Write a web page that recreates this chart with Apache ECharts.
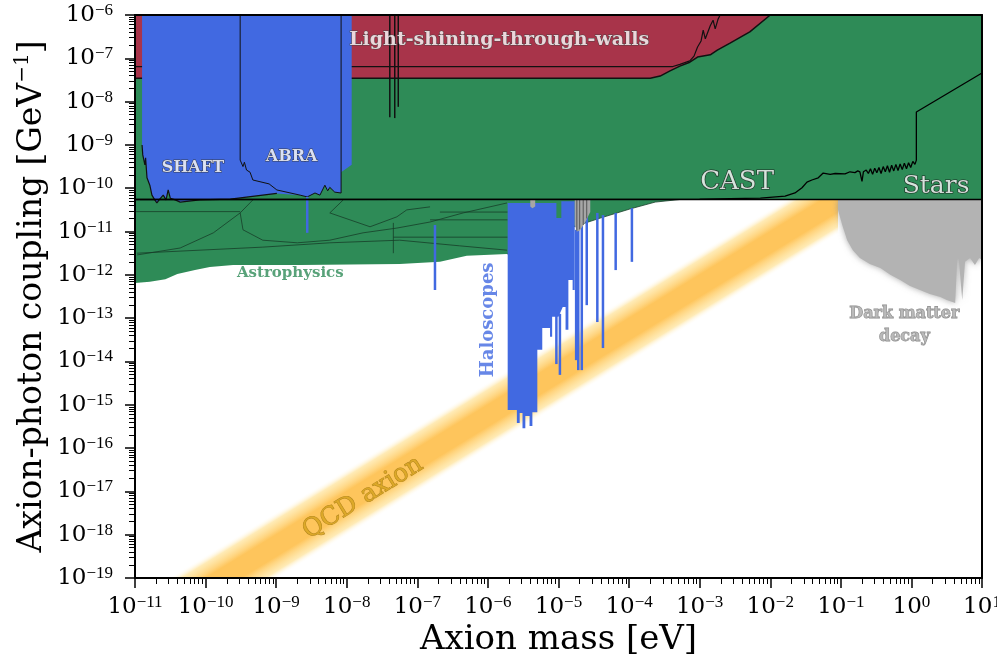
<!DOCTYPE html>
<html>
<head>
<meta charset="utf-8">
<title>Axion-photon coupling</title>
<script src="https://cdn.jsdelivr.net/npm/echarts@6/dist/echarts.min.js"></script>
<style>
  html, body { margin: 0; padding: 0; background: #fff; }
  #main { width: 997px; height: 664px; }
</style>
</head>
<body>
<div id="main"></div>
<script>
// every value below is log10: x = log10(mass / eV), y = log10(g / GeV^-1)

var FONT = 'DejaVu Serif';
var GREEN = '#2e8b57', RED = '#a8344a', BLUE = '#4169e1', GRAY = '#b3b3b3';

// stars (HB) bound, fills everything above it
var starsRegion = [[-11, -6], [1, -6], [1, -10.26], [-11, -10.26]];
var starsLine = [[-11, -10.26], [1, -10.26]];

// CAST helioscope limit
var castLine = [[-11, -10.26], [-3.0, -10.25], [-2.14, -10.23], [-1.79, -10.18], [-1.65, -10.11], [-1.55, -9.99],
  [-1.48, -9.86], [-1.41, -9.81], [-1.32, -9.76], [-1.25, -9.65], [-1.15, -9.68], [-1.08, -9.66], [-0.94, -9.67],
  [-0.87, -9.62], [-0.80, -9.64], [-0.76, -9.60], [-0.73, -9.62], [-0.70, -9.84], [-0.68, -9.62], [-0.64, -9.58],
  [-0.61, -9.66], [-0.58, -9.55], [-0.55, -9.68], [-0.52, -9.54], [-0.49, -9.64], [-0.46, -9.52], [-0.43, -9.66],
  [-0.40, -9.50], [-0.37, -9.62], [-0.34, -9.48], [-0.31, -9.63], [-0.28, -9.47], [-0.25, -9.60], [-0.22, -9.45],
  [-0.19, -9.59], [-0.16, -9.44], [-0.13, -9.57], [-0.10, -9.42], [-0.07, -9.55], [-0.04, -9.41], [-0.01, -9.52],
  [0.02, -9.38], [0.05, -9.45], [0.07, -9.35], [0.07, -8.24], [1.0, -7.34]];

// light-shining-through-walls
var lswRegion = [[-11, -6], [-2.00, -6], [-2.29, -6.39], [-2.57, -6.65], [-2.75, -6.81], [-2.85, -6.92], [-3.03, -6.97],
  [-3.14, -7.09], [-3.28, -7.18], [-3.42, -7.29], [-3.56, -7.41], [-3.70, -7.46], [-11, -7.46]];
var lswLower = [[-11, -7.46], [-3.70, -7.46], [-3.56, -7.41], [-3.42, -7.29], [-3.28, -7.18], [-3.14, -7.09],
  [-3.03, -6.97], [-2.85, -6.92], [-2.75, -6.81], [-2.57, -6.65], [-2.29, -6.39], [-2.00, -6]];
var lswUpper = [[-11, -7.19], [-3.38, -7.19], [-3.28, -7.14], [-3.14, -7.06], [-3.08, -6.95], [-3.03, -6.74],
  [-2.98, -6.60], [-2.95, -6.35], [-2.92, -6.55], [-2.90, -6.53], [-2.85, -6.25], [-2.81, -6.12], [-2.78, -6.32],
  [-2.74, -6.10], [-2.71, -6]];
var lswResonances = [[-7.39, -6, -8.36], [-7.32, -6, -8.38], [-7.27, -6, -8.12]];

// SHAFT + ABRA
var shaftAbraRegion = [[-10.90, -6], [-10.90, -9.00], [-10.89, -9.23], [-10.86, -9.46], [-10.85, -9.30], [-10.83, -9.76],
  [-10.79, -9.93], [-10.76, -10.16], [-10.72, -10.27], [-10.69, -10.34], [-10.65, -10.25], [-10.60, -10.16],
  [-10.56, -10.27], [-10.53, -10.04], [-10.50, -10.23], [-10.43, -10.27], [-10.36, -10.32], [-10.08, -10.27],
  [-9.65, -10.25], [-8.99, -10.12], [-8.66, -10.16], [-8.56, -10.20], [-8.45, -10.11], [-8.38, -10.16],
  [-8.31, -9.93], [-8.27, -10.06], [-8.24, -9.98], [-8.17, -10.09], [-8.08, -10.11], [-8.08, -9.63],
  [-7.93, -9.46], [-7.93, -6]];
var shaftEdge = [[-10.90, -9.00], [-10.89, -9.23], [-10.86, -9.46], [-10.85, -9.30], [-10.83, -9.76], [-10.79, -9.93],
  [-10.76, -10.16], [-10.72, -10.27], [-10.69, -10.34], [-10.65, -10.25], [-10.60, -10.16], [-10.56, -10.27],
  [-10.53, -10.04], [-10.50, -10.23], [-10.43, -10.27], [-10.36, -10.32], [-10.08, -10.27], [-9.65, -10.25],
  [-8.99, -10.12]];
var abraEdge = [[-9.51, -6], [-9.51, -9.35], [-9.47, -9.50], [-9.45, -9.40], [-9.42, -9.58], [-9.37, -9.63],
  [-9.33, -9.81], [-9.10, -9.90], [-8.99, -10.04], [-8.66, -10.16], [-8.56, -10.20], [-8.45, -10.11],
  [-8.38, -10.16], [-8.31, -9.93], [-8.27, -10.06], [-8.24, -9.98], [-8.17, -10.09], [-8.08, -10.11], [-8.08, -6]];

// astrophysics bounds below the HB line
var astroRegion = [[-11, -10.26], [-3.28, -10.26], [-3.63, -10.32], [-3.99, -10.48], [-4.41, -10.69], [-4.84, -10.92],
  [-5.26, -11.20], [-5.73, -11.52], [-6.30, -11.56], [-6.68, -11.70], [-7.25, -11.75], [-8.66, -11.77],
  [-9.61, -11.77], [-9.94, -11.82], [-10.15, -11.89], [-10.40, -11.98], [-10.57, -12.10], [-10.79, -12.16],
  [-11, -12.19]];
var astroEdge = [[-5.73, -11.52], [-5.26, -11.20], [-4.84, -10.92], [-4.41, -10.69], [-3.99, -10.48], [-3.63, -10.32], [-3.28, -10.26]];
var astroContours = [
  [[-11, -10.54], [-9.51, -10.54]],
  [[-10.97, -11.54], [-10.36, -11.38], [-9.89, -11.03], [-9.51, -10.57], [-9.33, -10.27]],
  [[-10.97, -11.50], [-9.19, -11.36], [-8.24, -11.26], [-7.25, -11.20], [-6.40, -11.33], [-5.73, -11.43]],
  [[-9.51, -10.57], [-9.47, -10.96], [-9.19, -11.20], [-8.70, -11.26], [-8.24, -11.20], [-7.77, -11.03],
    [-7.29, -10.92], [-6.82, -10.78], [-6.35, -10.57], [-5.73, -10.34]],
  [[-8.05, -10.27], [-8.24, -10.57], [-7.67, -10.89], [-7.29, -10.66], [-7.15, -10.50], [-6.82, -10.43]],
  [[-6.82, -10.73], [-5.72, -10.73]],
  [[-7.34, -11.13], [-5.72, -11.13]],
  [[-7.34, -10.80], [-7.34, -11.50]],
  [[-6.68, -10.55], [-5.72, -10.55]]
];

// haloscopes
var haloRegion = [[-5.72, -10.34], [-5.72, -15.12], [-5.59, -15.12], [-5.59, -15.42], [-5.55, -15.42], [-5.55, -15.19],
  [-5.51, -15.19], [-5.51, -15.54], [-5.47, -15.54], [-5.47, -15.26], [-5.41, -15.26], [-5.41, -15.49],
  [-5.37, -15.49], [-5.37, -15.17], [-5.30, -15.17], [-5.30, -13.73], [-5.23, -13.73], [-5.23, -13.23],
  [-5.12, -13.23], [-5.12, -13.43], [-5.09, -13.43], [-5.09, -12.97], [-5.00, -12.97], [-4.94, -12.74],
  [-4.90, -12.74], [-4.90, -13.27], [-4.86, -13.27], [-4.86, -12.12], [-4.80, -12.12], [-4.80, -12.35],
  [-4.77, -12.35], [-4.77, -10.30], [-4.96, -10.30], [-4.96, -10.69], [-5.03, -10.69], [-5.03, -10.34]];
// [log m, top, bottom]
var haloSpikes = [[-8.56, -10.20, -11.03], [-6.75, -10.85, -12.35], [-5.03, -12.9, -14.06], [-4.98, -12.9, -14.31],
  [-4.75, -10.96, -13.97], [-4.72, -10.96, -14.20], [-4.67, -10.85, -14.20], [-4.60, -10.66, -12.70],
  [-4.45, -10.57, -13.09], [-4.37, -10.62, -13.69], [-4.19, -10.57, -11.89], [-3.96, -10.46, -11.70]];
var haloGray = [[-4.77, -10.27], [-4.55, -10.27], [-4.55, -10.55], [-4.62, -10.78], [-4.70, -10.98], [-4.74, -11.0], [-4.77, -10.85]];
var haloGraySmall = [[-5.40, -10.27], [-5.33, -10.27], [-5.33, -10.42], [-5.37, -10.46], [-5.40, -10.42]];
var haloGrayLines = [[-4.74, -10.27, -10.98], [-4.70, -10.27, -10.95], [-4.65, -10.27, -10.85], [-4.60, -10.27, -10.70]];

// dark matter decay
var dmDecayRegion = [[-1.04, -10.26], [-1.04, -10.50], [-0.98, -10.85], [-0.91, -11.20], [-0.83, -11.43], [-0.73, -11.61],
  [-0.59, -11.75], [-0.44, -11.84], [-0.30, -12.00], [-0.16, -12.12], [-0.02, -12.26], [0.12, -12.35], [0.26, -12.44],
  [0.41, -12.51], [0.50, -12.58], [0.62, -12.65], [0.65, -11.61], [0.67, -11.61], [0.72, -12.58], [0.76, -11.70],
  [0.83, -11.61], [0.90, -11.77], [0.96, -11.61], [1.0, -11.66], [1.0, -10.26]];

// QCD axion band: outline and centre line
var qcdBand = [[-10.53, -19], [-8.97, -19], [-1.04, -11.07], [-1.04, -9.51]];
var qcdCenter = [[-9.75, -19], [-1.04, -10.29]];

var labels = [
  { text: 'SHAFT', at: [-10.18, -9.53] },
  { text: 'ABRA', at: [-8.78, -9.28] },
  { text: 'Light-shining-through-walls', at: [-5.84, -6.58] },
  { text: 'CAST', at: [-2.47, -9.86] },
  { text: 'Stars', at: [0.35, -9.97] },
  { text: 'Astrophysics', at: [-8.80, -11.96] },
  { text: 'Haloscopes', at: [-6.00, -13.04] },
  { text: 'Dark matter\ndecay', at: [-0.10, -13.16] },
  { text: 'QCD axion', at: [-7.77, -17.15] }
];

var labelStyles = {
  'SHAFT': { fontSize: 16, fontWeight: 'bold', color: '#fff', textBorderColor: '#333', textBorderWidth: 1 },
  'ABRA': { fontSize: 16, fontWeight: 'bold', color: '#fff', textBorderColor: '#333', textBorderWidth: 1 },
  'Light-shining-through-walls': { fontSize: 19, fontWeight: 'bold', color: '#fff', textBorderColor: '#444', textBorderWidth: 1 },
  'CAST': { fontSize: 26, color: '#fff', textBorderColor: '#111', textBorderWidth: 1.2 },
  'Stars': { fontSize: 25, color: '#fff', textBorderColor: '#111', textBorderWidth: 1.2 },
  'Astrophysics': { fontSize: 15, fontWeight: 'bold', color: GREEN },
  'Haloscopes': { fontSize: 18, fontWeight: 'bold', color: BLUE, rotate: 90 },
  'Dark matter\ndecay': { fontSize: 16, fontWeight: 'bold', color: '#a9a9a9', textBorderColor: '#6e6e6e', textBorderWidth: 0.8, lineHeight: 23 },
  'QCD axion': { fontSize: 25, color: '#d6a21e', textBorderColor: '#9c7410', textBorderWidth: 0.8, rotate: 31.5 }
};

function area(pts, color, z, extra) {
  return {
    type: 'custom', z: z, silent: true, clip: true, data: pts,
    renderItem: function (params, api) {
      if (params.dataIndex !== 0) return null;
      var p = pts.map(function (d) { return api.coord(d); });
      var style = { fill: color };
      for (var k in extra || {}) style[k] = extra[k];
      return { type: 'polygon', shape: { points: p }, style: style };
    }
  };
}

function line(pts, color, width, z) {
  return {
    type: 'line', data: pts, symbol: 'none', z: z, silent: true,
    lineStyle: { color: color, width: width }
  };
}

function segments(list, color, width, z) {
  return {
    type: 'custom', z: z, silent: true, clip: true, data: list,
    renderItem: function (params, api) {
      var a = api.coord([api.value(0), api.value(1)]);
      var b = api.coord([api.value(0), api.value(2)]);
      return { type: 'line', shape: { x1: a[0], y1: a[1], x2: b[0], y2: b[1] }, style: { stroke: color, lineWidth: width } };
    }
  };
}

var bandSeries = {
  type: 'custom', z: 1, silent: true, clip: true, data: qcdBand,
  renderItem: function (params, api) {
    if (params.dataIndex !== 0) return null;
    var p = qcdBand.map(function (d) { return api.coord(d); });
    var a = api.coord(qcdCenter[0]), b = api.coord(qcdCenter[1]);
    var dx = b[0] - a[0], dy = b[1] - a[1], L = Math.sqrt(dx * dx + dy * dy);
    var nx = -dy / L, ny = dx / L;
    var w = Math.abs((p[0][0] - a[0]) * nx + (p[0][1] - a[1]) * ny);
    var fill = new echarts.graphic.LinearGradient(a[0] - nx * w, a[1] - ny * w, a[0] + nx * w, a[1] + ny * w, [
      { offset: 0, color: 'rgba(255,255,255,0)' },
      { offset: 0.12, color: 'rgba(255,226,150,0.7)' },
      { offset: 0.27, color: '#ffd47e' },
      { offset: 0.34, color: '#fec55c' },
      { offset: 0.66, color: '#fec55c' },
      { offset: 0.73, color: '#ffd47e' },
      { offset: 0.88, color: 'rgba(255,226,150,0.7)' },
      { offset: 1, color: 'rgba(255,255,255,0)' }
    ], true);
    return { type: 'polygon', shape: { points: p }, style: { fill: fill } };
  }
};

function minorTicks(lo, hi) {
  var v = [];
  for (var n = lo; n < hi; n++) for (var k = 2; k < 10; k++) v.push(n + Math.log10(k));
  return v;
}

function powLabel(v) {
  var e = Math.round(v);
  return '{b|10}{s|' + (e < 0 ? '\u2212' + (-e) : String(e)) + '}';
}

var tickRich = {
  b: { fontFamily: FONT, fontSize: 23, color: '#000', lineHeight: 26 },
  s: { fontFamily: 'Liberation Serif', fontSize: 17, color: '#000', verticalAlign: 'top', lineHeight: 17 }
};

var black = { color: '#000', width: 2 };

var series = [
  bandSeries,
  area(dmDecayRegion, GRAY, 2, { shadowBlur: 6, shadowColor: 'rgba(150,150,150,0.8)' }),
  area(starsRegion, GREEN, 3),
  area(astroRegion, GREEN, 3),
  area(lswRegion, RED, 4),
  line(lswLower, '#111', 1.5, 5),
  line(lswUpper, '#111', 1.2, 5),
  segments(lswResonances, '#111', 1.5, 5),
  area(shaftAbraRegion, BLUE, 6),
  line(shaftEdge, '#111', 1.2, 7),
  line(abraEdge, '#111', 1, 7)
];
astroContours.forEach(function (c) { series.push(line(c, '#173d28', 0.8, 5)); });
series.push(line(astroEdge, '#173d28', 0.8, 5));
series.push(area(haloRegion, BLUE, 8));
series.push(segments(haloSpikes, BLUE, 2.5, 8));
series.push(area(haloGray, '#a6a6a6', 9));
series.push(area(haloGraySmall, '#a6a6a6', 9));
series.push(segments(haloGrayLines, '#555', 1, 9));
series.push(line(starsLine, '#000', 1.5, 10));
series.push(line(castLine, '#000', 1.3, 10));
series.push({
  type: 'scatter', z: 20, silent: true, symbolSize: 0.1, itemStyle: { color: 'rgba(0,0,0,0)' },
  data: labels.map(function (l) {
    var st = labelStyles[l.text];
    var lab = { show: true, position: 'inside', formatter: l.text, fontFamily: FONT, align: 'center', verticalAlign: 'middle' };
    for (var k in st) lab[k] = st[k];
    return { value: l.at, label: lab };
  })
});

var frame = { onZero: false, lineStyle: black };

var option = {
  animation: false,
  backgroundColor: '#fff',
  grid: { left: 135, right: 15, top: 15, bottom: 86, containLabel: false, outerBoundsMode: 'none' },
  xAxis: [
    {
      type: 'value', min: -11, max: 1, interval: 1, position: 'bottom', z: 30,
      axisLine: frame,
      axisTick: { length: 10, lineStyle: { color: '#000', width: 1.5 } },
      axisLabel: { formatter: powLabel, rich: tickRich, margin: 16 },
      splitLine: { show: false },
      name: 'Axion mass [eV]', nameLocation: 'middle', nameGap: 45, nameMoveOverlap: false,
      nameTextStyle: { fontFamily: FONT, fontSize: 34, color: '#000', verticalAlign: 'top' }
    },
    {
      type: 'value', min: -11, max: 1, position: 'bottom', z: 30,
      axisLine: { show: false, onZero: false },
      axisTick: { customValues: minorTicks(-11, 1), length: 6, lineStyle: { color: '#000', width: 1 } },
      axisLabel: { show: false }, splitLine: { show: false }
    },
    {
      type: 'value', min: -11, max: 1, position: 'top', z: 30,
      axisLine: frame, axisTick: { show: false }, axisLabel: { show: false }, splitLine: { show: false }
    }
  ],
  yAxis: [
    {
      type: 'value', min: -19, max: -6, interval: 1, position: 'left', z: 30,
      axisLine: frame,
      axisTick: { length: 10, lineStyle: { color: '#000', width: 1.5 } },
      axisLabel: { formatter: powLabel, rich: tickRich, margin: 22 },
      splitLine: { show: false },
      name: '{n|Axion-photon coupling [GeV}{s|\u22121}{n|]}', nameLocation: 'middle', nameGap: 84, nameRotate: 90,
      nameMoveOverlap: false,
      nameTextStyle: {
        rich: {
          n: { fontFamily: FONT, fontSize: 33, color: '#000', lineHeight: 38 },
          s: { fontFamily: FONT, fontSize: 20, color: '#000', verticalAlign: 'top', lineHeight: 20 }
        }
      }
    },
    {
      type: 'value', min: -19, max: -6, position: 'left', z: 30,
      axisLine: { show: false, onZero: false },
      axisTick: { customValues: minorTicks(-19, -6), length: 6, lineStyle: { color: '#000', width: 1 } },
      axisLabel: { show: false }, splitLine: { show: false }
    },
    {
      type: 'value', min: -19, max: -6, position: 'right', z: 30,
      axisLine: frame, axisTick: { show: false }, axisLabel: { show: false }, splitLine: { show: false }
    }
  ],
  series: series
};

var chart = echarts.init(document.getElementById('main'), null, { renderer: 'canvas' });
chart.setOption(option);
</script>
</body>
</html>
